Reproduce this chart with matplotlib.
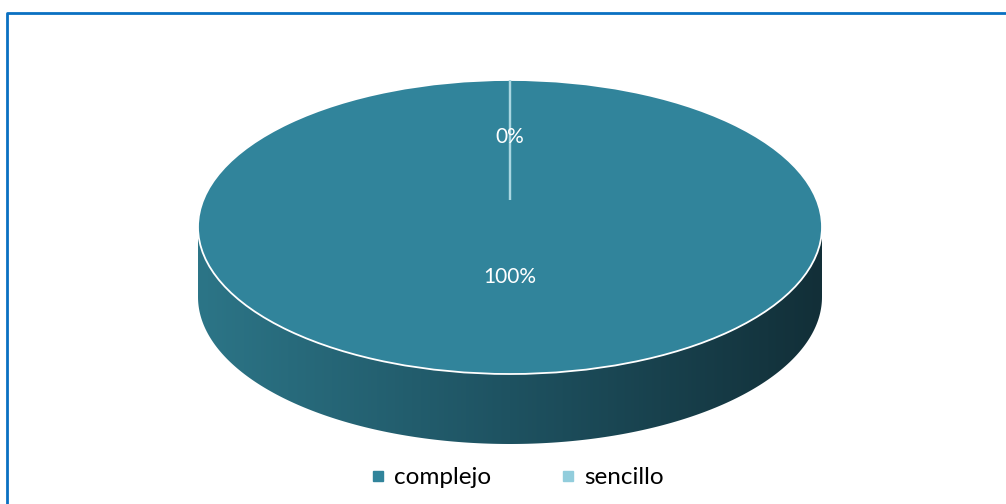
import numpy as np
import matplotlib.pyplot as plt
from matplotlib.path import Path
from matplotlib.patches import Ellipse, PathPatch
from matplotlib.lines import Line2D
from matplotlib.colors import LinearSegmentedColormap

plt.rcParams['font.family'] = ['Lato', 'DejaVu Sans']

categories = ['complejo', 'sencillo']
values = [100, 0]
labels = ['100%', '0%']
colors = ['#31849B', '#92CDDC']

# pie geometry (pixel space)
cx, cy = 510, 227
a, b = 312, 147
depth = 70
label_r = [0.34, 0.61]

fig = plt.figure(figsize=(10.06, 5.04), dpi=100)
ax = fig.add_axes([0, 0, 1, 1])
ax.set_xlim(0, 1006)
ax.set_ylim(504, 0)
ax.axis('off')

# side wall of the cylinder with a left-to-right shading
t = np.linspace(0, np.pi, 200)
top_x = cx + a * np.cos(t)
top_y = cy + b * np.sin(t)
verts = list(zip(top_x, top_y)) + list(zip(top_x[::-1], top_y[::-1] + depth))
side = PathPatch(Path(verts + [verts[0]], closed=True), facecolor='none', edgecolor='none')
ax.add_patch(side)
shade = LinearSegmentedColormap.from_list('side', ['#2C7587', '#1E5261', '#122F38'])
grad = np.linspace(0, 1, 256).reshape(1, -1)
im = ax.imshow(grad, cmap=shade, aspect='auto',
               extent=(cx - a, cx + a, cy + b + depth, cy), zorder=1)
im.set_clip_path(side)

# top face
ax.add_patch(Ellipse((cx, cy), 2 * a, 2 * b, facecolor=colors[0],
                     edgecolor='white', linewidth=1.3, zorder=2))

# slice boundaries and labels, starting at 12 o'clock going clockwise
total = sum(values)
angles = 90 - 360 * np.cumsum([0] + values) / total
for ang in angles[:-1]:
    r = np.deg2rad(ang)
    ax.plot([cx, cx + a * np.cos(r)], [cy - 27, cy - b * np.sin(r)],
            color='#A9D6E1', linewidth=1.6, zorder=3, solid_capstyle='butt')
for i, lab in enumerate(labels):
    mid = np.deg2rad((angles[i] + angles[i + 1]) / 2)
    ax.text(cx + label_r[i] * a * np.cos(mid), cy - label_r[i] * b * np.sin(mid), lab,
            color='white', fontsize=15, ha='center', va='center', zorder=4)

# frame
ax.plot([7.5, 7.5, 1006], [504, 12.5, 12.5], color='#0A70C2', linewidth=2, zorder=5)

handles = [Line2D([], [], marker='s', linestyle='none', markersize=6.5,
                  markerfacecolor=c, markeredgecolor=c) for c in colors]
ax.legend(handles, categories, loc='center', bbox_to_anchor=(0.513, 0.052), ncol=2,
          frameon=False, fontsize=17.5, handletextpad=0.25, columnspacing=2.75,
          handlelength=0.8)

fig.savefig('out.png', dpi=100)
